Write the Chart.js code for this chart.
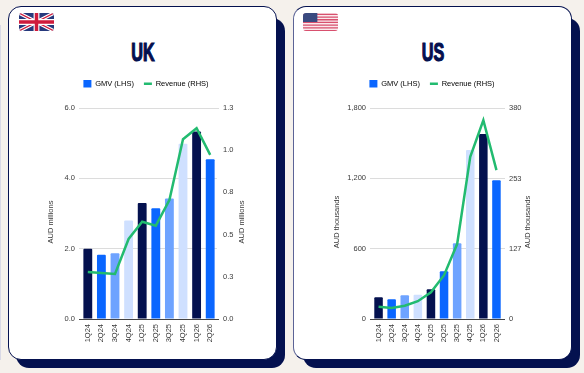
<!DOCTYPE html>
<html>
<head>
<meta charset="utf-8">
<script src="https://cdn.jsdelivr.net/npm/chart.js@4/dist/chart.umd.min.js"></script>
<style>
  html, body { margin: 0; padding: 0; }
  body { width: 584px; height: 373px; background: #f5f1ec; position: relative; overflow: hidden; font-family: "Liberation Sans", sans-serif; }
  .sliver { position: absolute; left: 0; top: 25px; width: 1px; height: 335px; background: #d9d9e6; }
  .shadow { position: absolute; background: #04114f; border-radius: 13px; }
  .card { position: absolute; background: #fff; border-radius: 13px; box-sizing: border-box; border: 1px solid #04114f; }
  #ukShadow { left: 16px; top: 18px; width: 269px; height: 350px; }
  #usShadow { left: 303px; top: 18px; width: 277px; height: 350px; }
  #ukCard { left: 8px; top: 6px; width: 269px; height: 354px; }
  #usCard { left: 293px; top: 6px; width: 279px; height: 354px; border-left-color: #5b6396; }
  canvas { position: absolute; top: 0; }
  #ukChart { left: 0; }
  #usChart { left: 292px; }
  .heading { position: absolute; top: 38px; width: 60px; text-align: center; color: #04114f; font: bold 26px/28px "Liberation Sans Narrow", "Liberation Sans", sans-serif; -webkit-text-stroke: 1.1px #04114f; transform: scaleX(0.62); text-shadow: -0.6px 0 0 #e8a080, 0.6px 0 0 #7fa6e8; }
  svg.flag { position: absolute; top: 13px; width: 35px; height: 18px; border-radius: 3px; }
</style>
</head>
<body>
<div class="sliver"></div>
<div class="shadow" id="ukShadow"></div>
<div class="shadow" id="usShadow"></div>
<div class="card" id="ukCard"></div>
<div class="card" id="usCard"></div>

<svg class="flag" style="left:19px" viewBox="0 0 60 30" preserveAspectRatio="none">
  <rect width="60" height="30" fill="#26397c"/>
  <path d="M0 0L60 30M60 0L0 30" stroke="#fff" stroke-width="6"/>
  <path d="M0 0L60 30M60 0L0 30" stroke="#cf1b3c" stroke-width="2"/>
  <path d="M30 0V30M0 15H60" stroke="#fff" stroke-width="10"/>
  <path d="M30 0V30M0 15H60" stroke="#cf1b3c" stroke-width="6"/>
</svg>
<svg class="flag" style="left:303px" viewBox="0 0 39 20" preserveAspectRatio="none">
  <rect width="39" height="20" fill="#fbe9ec"/>
  <path d="M0 1.5H39M0 4.5H39M0 7.5H39M0 10.5H39M0 13.5H39M0 16.5H39M0 19.5H39" stroke="#d8506e" stroke-width="1.4"/>
  <rect width="16" height="10" fill="#3a4a80"/>
</svg>

<div class="heading" style="left:113px">UK</div>
<div class="heading" style="left:403px">US</div>

<canvas id="ukChart" width="292" height="373"></canvas>
<canvas id="usChart" width="280" height="373"></canvas>

<script>
const quarters = ["1Q24", "2Q24", "3Q24", "4Q24", "1Q25", "2Q25", "3Q25", "4Q25", "1Q26", "2Q26"];

const ukGmv = [2.0, 1.83, 1.87, 2.8, 3.3, 3.15, 3.43, 4.98, 5.33, 4.54];
const ukRevenue = [0.278, 0.272, 0.267, 0.474, 0.576, 0.553, 0.705, 1.065, 1.13, 0.972];
const ukGmvTicks = [0, 2, 4, 6];
const ukRevenueTicks = [0, 0.25, 0.5, 0.75, 1.0, 1.25];

const usGmv = [185, 168, 202, 207, 253, 407, 646, 1442, 1578, 1183];
const usRevenue = [22, 20, 24, 32, 48, 79, 135, 292, 358, 268];
const usGmvTicks = [0, 600, 1200, 1800];
const usRevenueTicks = [0, 127, 253, 380];

const barColors = ["#04114f", "#0a66ff", "#6ea3ff", "#cfe0ff"];
const lineColor = "#22bb70";
const tickFont = { family: "'Liberation Sans', sans-serif", size: 7.5 };

Chart.defaults.font.family = tickFont.family;
Chart.defaults.font.size = 7.5;
Chart.defaults.color = "#3a3a3a";

// axis titles sit lower than the middle of the axis, so they are placed by hand
const sideTitles = {
  id: "sideTitles",
  afterDraw(chart, args, opts) {
    const c = chart.ctx;
    c.save();
    c.font = "7.5px 'Liberation Sans', sans-serif";
    c.fillStyle = "#3a3a3a";
    c.textAlign = "center";
    c.textBaseline = "middle";
    [opts.leftX, opts.rightX].forEach((x) => {
      c.save();
      c.translate(x, 222);
      c.rotate(-Math.PI / 2);
      c.fillText(opts.text, 0, 0);
      c.restore();
    });
    c.restore();
  },
};

// more room under the legend than the label padding gives
const legendGap = {
  id: "legendGap",
  beforeInit(chart) {
    const fit = chart.legend.fit;
    chart.legend.fit = function () {
      fit.call(this);
      this.height = 38;
    };
  },
};

function gridColor(ctx) {
  return ctx.tick && ctx.tick.value === 0 ? "#444" : "#dcdcdc";
}

function makeChart(id, setup) {
  return new Chart(document.getElementById(id), {
    type: "bar",
    data: {
      labels: quarters,
      datasets: [
        {
          label: "GMV (LHS)",
          data: setup.gmv,
          yAxisID: "y",
          order: 2,
          backgroundColor: quarters.map((q, i) => barColors[i % 4]),
          categoryPercentage: 1,
          barPercentage: 0.65,
          borderRadius: 1,
        },
        {
          type: "line",
          label: "Revenue (RHS)",
          data: setup.revenue,
          yAxisID: "y1",
          order: 1,
          borderColor: lineColor,
          borderWidth: 2.5,
          pointRadius: 0,
          tension: 0,
        },
      ],
    },
    options: {
      responsive: false,
      animation: false,
      layout: { padding: { top: 70, bottom: 14 } },
      plugins: {
        tooltip: { enabled: false },
        legend: {
          position: "top",
          labels: {
            padding: 10,
            boxWidth: 8,
            boxHeight: 8,
            usePointStyle: true,
            pointStyleWidth: 8,
            color: "#444",
            generateLabels() {
              return [
                { text: "GMV (LHS)", fillStyle: "#0a66ff", strokeStyle: "#0a66ff", lineWidth: 0, pointStyle: "rect", datasetIndex: 0 },
                { text: "Revenue (RHS)", fillStyle: lineColor, strokeStyle: lineColor, lineWidth: 2.5, pointStyle: "line", datasetIndex: 1 },
              ];
            },
          },
        },
        sideTitles: setup.titles,
      },
      scales: {
        x: {
          grid: { display: false, drawTicks: false },
          border: { color: "#444" },
          ticks: { minRotation: 90, maxRotation: 90, autoSkip: false, padding: 5, font: tickFont },
          afterFit(scale) { scale.height = 40; },
        },
        y: {
          position: "left",
          min: 0,
          max: setup.gmvTicks[setup.gmvTicks.length - 1],
          border: { display: false },
          grid: { color: gridColor, tickLength: setup.tickLen, tickColor: gridColor },
          ticks: { padding: 4, font: tickFont, callback: setup.gmvLabel },
          afterBuildTicks(scale) { scale.ticks = setup.gmvTicks.map((value) => ({ value })); },
          afterFit(scale) { scale.width = setup.leftWidth; },
        },
        y1: {
          position: "right",
          min: 0,
          max: setup.revenueTicks[setup.revenueTicks.length - 1],
          border: { display: false },
          grid: { drawOnChartArea: false, tickLength: setup.tickLen, color: gridColor, tickColor: (ctx) => (setup.gmvMatch(ctx.tick.value) ? gridColor(ctx) : "transparent") },
          ticks: { padding: 4, font: tickFont, callback: setup.revenueLabel },
          afterBuildTicks(scale) { scale.ticks = setup.revenueTicks.map((value) => ({ value })); },
          afterFit(scale) { scale.width = setup.rightWidth; },
        },
      },
    },
    plugins: [sideTitles, legendGap],
  });
}

makeChart("ukChart", {
  gmv: ukGmv,
  revenue: ukRevenue,
  gmvTicks: ukGmvTicks,
  revenueTicks: ukRevenueTicks,
  gmvLabel: (v) => v.toFixed(1),
  revenueLabel: (v) => v.toFixed(1),
  gmvMatch: (v) => v === 0 || v === 1.25,
  tickLen: 2,
  leftWidth: 81,
  rightWidth: 75,
  titles: { text: "AUD millions", leftX: 51, rightX: 242 },
});

makeChart("usChart", {
  gmv: usGmv,
  revenue: usRevenue,
  gmvTicks: usGmvTicks,
  revenueTicks: usRevenueTicks,
  gmvLabel: (v) => v.toLocaleString("en-US"),
  revenueLabel: (v) => String(v),
  gmvMatch: () => true,
  tickLen: 2,
  leftWidth: 80,
  rightWidth: 69,
  titles: { text: "AUD thousands", leftX: 45, rightX: 236 },
});
</script>
</body>
</html>
